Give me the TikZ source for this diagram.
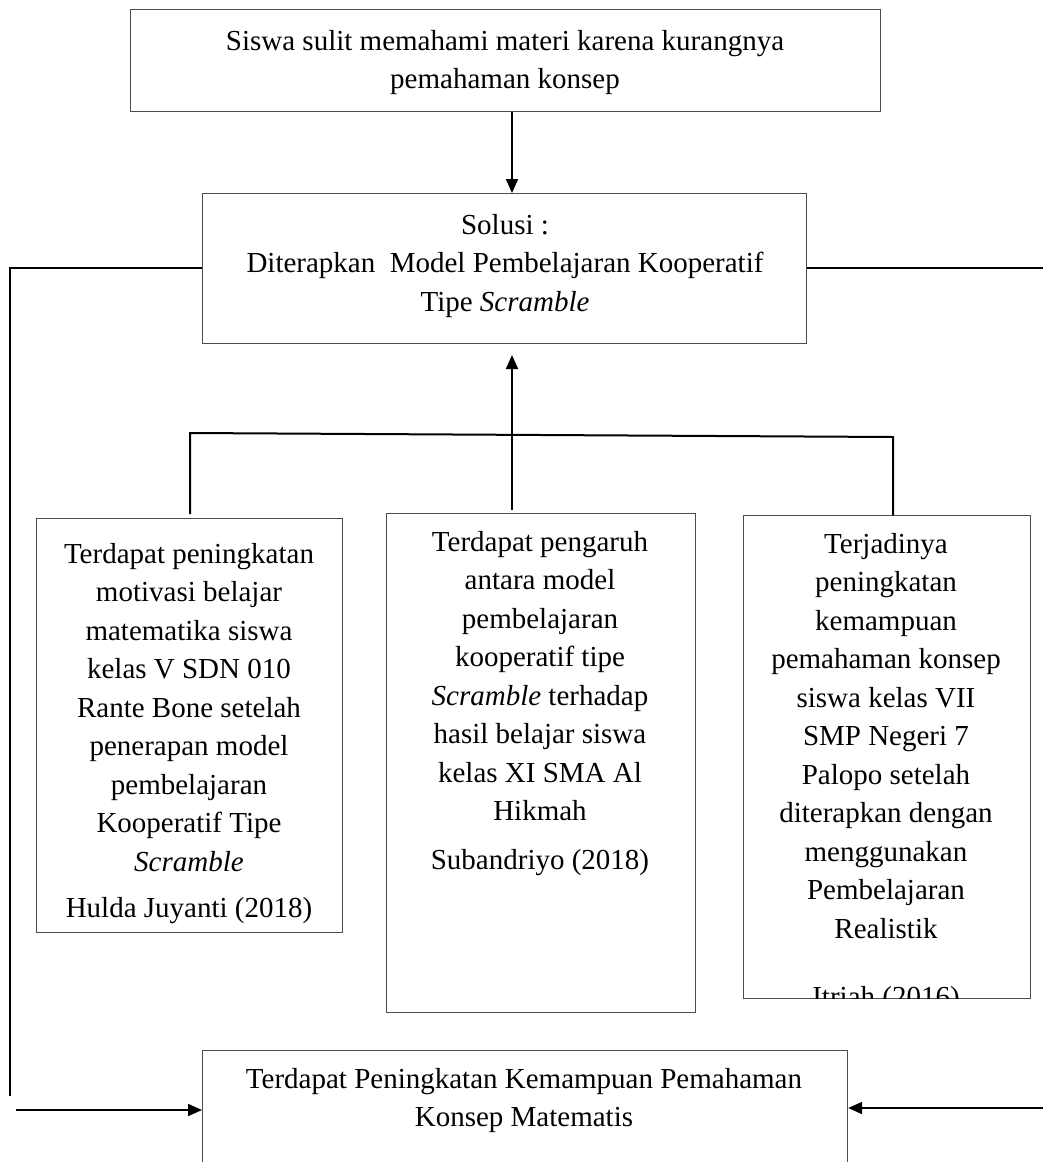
\documentclass[tikz,border=0pt]{standalone}
\usepackage{fontspec}
\setmainfont{Liberation Serif}
\usetikzlibrary{arrows.meta}
\begin{document}
\begin{tikzpicture}[x=1pt,y=-1pt,
  box/.style={draw=black!70, line width=1.2pt, rectangle, inner sep=0pt, anchor=north west},
  txt/.style={inner sep=0pt, align=center, font=\fontsize{29}{38.5}\selectfont, anchor=north},
  conn/.style={draw=black, line width=2pt},
  arr/.style={conn, -{Triangle[length=14pt,width=12pt]}}]
\useasboundingbox (0,0) rectangle (1043,1162);
\clip (0,0) rectangle (1043,1162);
% boxes
\node[box, minimum width=750pt, minimum height=102pt] (top) at (130,9) {};
\node[box, minimum width=604pt, minimum height=150pt] (sol) at (202,193) {};
\node[box, minimum width=306pt, minimum height=414pt] (left) at (36,518) {};
\node[box, minimum width=309pt, minimum height=499pt] (mid) at (386,513) {};
\node[box, minimum width=287pt, minimum height=483pt] (right) at (743,515) {};
\node[box, minimum width=645pt, minimum height=140pt] (bot) at (202,1050) {};
% texts
\node[txt] (toptext) at (505,30) {Siswa sulit memahami materi karena kurangnya\\pemahaman konsep};
\node[txt] (soltext) at (505,214) {Solusi :\\Diterapkan\ \ Model Pembelajaran Kooperatif\\Tipe \textit{Scramble}};
\node[txt] (lefttext) at (189,543) {Terdapat peningkatan\\motivasi belajar\\matematika siswa\\kelas V SDN 010\\Rante Bone setelah\\penerapan model\\pembelajaran\\Kooperatif Tipe\\\textit{Scramble}\\[8pt]Hulda Juyanti (2018)};
\node[txt] (midtext) at (540,531) {Terdapat pengaruh\\antara model\\pembelajaran\\kooperatif tipe\\\textit{Scramble} terhadap\\hasil belajar siswa\\kelas XI SMA Al\\Hikmah\\[10pt]Subandriyo (2018)};
\begin{scope}
\clip (743,515) rectangle (1030,998);
\node[txt] (righttext) at (886,533) {Terjadinya\\peningkatan\\kemampuan\\pemahaman konsep\\siswa kelas VII\\SMP Negeri 7\\Palopo setelah\\diterapkan dengan\\menggunakan\\Pembelajaran\\Realistik\\[30pt]Itriah (2016)};
\end{scope}
\node[txt] (bottext) at (524,1068) {Terdapat Peningkatan Kemampuan Pemahaman\\Konsep Matematis};
% coordinates
\coordinate (lc) at (10,268);
\coordinate (lb) at (10,1096);
\coordinate (la) at (16,1110);
\coordinate (rc) at (1043,268);
\coordinate (ra) at (1043,1108);
\coordinate (hl) at (190,433);
\coordinate (hr) at (893,437);
\coordinate (mt) at (512,510);
\coordinate (st) at (512,355);
% connectors
\draw[arr] (top.south -| mt) -- (sol.north -| mt);
\draw[arr] (mt) -- (st);
\draw[conn] (hl |- 0,514) -- (hl) -- (hr) -- (hr |- 0,515);
\draw[conn] (sol.west |- lc) -- (lc) -- (lb);
\draw[conn] (sol.east |- rc) -- (rc);
\draw[arr] (la) -- (bot.west |- la);
\draw[arr] (ra) -- (bot.east |- ra);
\end{tikzpicture}
\end{document}
